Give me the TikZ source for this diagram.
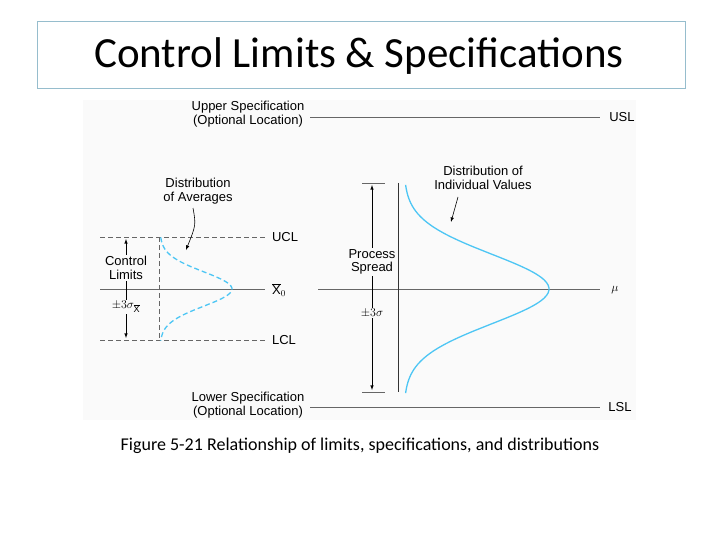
\documentclass[tikz,border=0pt]{standalone}
\usepackage{fontspec}
\setmainfont{Liberation Sans}
\newfontfamily\calib{Carlito}
\begin{document}
\begin{tikzpicture}[x=1pt,y=-1pt,
  lbl/.style={font=\fontsize{13}{13.5}\selectfont, align=center, inner sep=0pt},
  gl/.style={draw=gray!80!black, line width=0.7pt},
  dl/.style={draw=gray!80!black, line width=0.7pt, dash pattern=on 5pt off 3pt},
  cy/.style={draw=cyan!70!white, line width=1.3pt},
  arr/.style={-latex, line width=0.6pt}]
\useasboundingbox (0,0) rectangle (720,540);
\fill[gray!4] (83,100) rectangle (636,420);
\node[draw=cyan!40!gray!70, line width=0.6pt, minimum width=648, minimum height=67, inner sep=0pt] (title) at (361,54.5) {};
\node[font=\calib\fontsize{43}{46}\selectfont] (tt) at (359,56) {Control Limits \& Specifications};
% spec lines
\coordinate (usla) at (310,117); \coordinate (uslb) at (600,117);
\draw[gl] (usla) -- (uslb);
\node[lbl] (usl) at (622,117) {USL};
\node[lbl] (uspec) at (248,114) {Upper Specification\\(Optional Location)};
\coordinate (lsla) at (310,407); \coordinate (lslb) at (600,407);
\draw[gl] (lsla) -- (lslb);
\node[lbl] (lsl) at (620,407) {LSL};
\node[lbl] (lspec) at (248,405) {Lower Specification\\(Optional Location)};
% left part
\coordinate (ua) at (100,237); \coordinate (ub) at (265,237);
\coordinate (la) at (100,340); \coordinate (lb) at (265,340);
\coordinate (xa) at (100,289); \coordinate (xb) at (265,289);
\draw[dl] (ua) -- (ub); \draw[dl] (la) -- (lb);
\draw[gl] (xa) -- (xb);
\coordinate (va) at (159,237); \coordinate (vb) at (159,340);
\draw[dl] (va) -- (vb);
\node[lbl] (ucl) at (285,237) {UCL};
\node[lbl] (lcl) at (284,340) {LCL};
\node[lbl] (x0) at (279,290) {$\overline{\mathrm{X}}_0$};
\draw[cy, dash pattern=on 5pt off 3pt] plot[domain=-3:3, samples=60, smooth] ({160+72*exp(-\x*\x/2)},{289+17.2*\x});
\coordinate (lc) at (126,289); \coordinate (lt) at (126,239); \coordinate (lbt) at (126,338);
\draw[arr] (lc) -- (lt); \draw[arr] (lc) -- (lbt);
\node[lbl, fill=gray!4, inner sep=1pt] (cl) at (126,268) {Control\\Limits};
\node[lbl, fill=gray!4, inner sep=1pt] (s3x) at (126,307) {$\pm3\sigma_{\overline{\mathrm{X}}}$};
\node[lbl] (da) at (198,191) {Distribution\\of Averages};
\coordinate (daa) at (186,250);
\draw[arr] (193,208) .. controls (196,225) .. (daa);
% right part
\coordinate (ma) at (318,289); \coordinate (mb) at (600,289);
\draw[gl] (ma) -- (mb);
\node[lbl] (mu) at (615,290) {$\mu$};
\coordinate (pa) at (398,183); \coordinate (pb) at (398,392);
\draw[line width=1pt, black!80] (pa) -- (pb);
\coordinate (t1a) at (362,183); \coordinate (t1b) at (385,183);
\coordinate (t2a) at (362,392); \coordinate (t2b) at (385,392);
\draw[gl] (t1a) -- (t1b); \draw[gl] (t2a) -- (t2b);
\draw[cy] plot[domain=-3:3, samples=80, smooth] ({404+145*exp(-\x*\x/2)},{289+34.7*\x});
\coordinate (rc) at (372,289); \coordinate (rt) at (372,185); \coordinate (rb) at (372,390);
\draw[arr] (rc) -- (rt); \draw[arr] (rc) -- (rb);
\node[lbl, fill=gray!4, inner sep=1pt] (ps) at (372,262) {Process\\Spread};
\node[lbl, fill=gray!4, inner sep=1pt] (s3) at (372,313) {$\pm3\sigma$};
\node[lbl] (di) at (483,178) {Distribution of\\Individual Values};
\coordinate (dia) at (451,222);
\draw[arr] (458,197) -- (dia);
\node[font=\calib\fontsize{18}{20}\selectfont] (cap) at (360,446) {Figure 5-21 Relationship of limits, specifications, and distributions};
\end{tikzpicture}
\end{document}
